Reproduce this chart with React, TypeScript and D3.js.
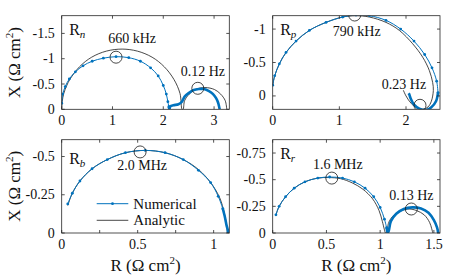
import React from "react";
import * as d3 from "d3";

type Pt = [number, number];
type Mark = { label: string; r: number; x: number };

// ---- R_n ----
const rnLimR = [0, 3.3];
const rnLimX = [0, -1.85];
const rnTicksR = [0, 1, 2, 3];
const rnTicksX = [0, -0.5, -1, -1.5];
const rnAnalytic: Pt[] = [
  [0, 0], [0.01, -0.15], [0.04, -0.31], [0.1, -0.47], [0.16, -0.59], [0.35, -0.84],
  [0.59, -1.03], [0.88, -1.15], [1.19, -1.19], [1.49, -1.15], [1.78, -1.03], [2.02, -0.84],
  [2.21, -0.59], [2.33, -0.31], [2.37, 0], [2.39, 0], [2.42, -0.17], [2.51, -0.3],
  [2.63, -0.39], [2.82, -0.43], [3.01, -0.39], [3.13, -0.3], [3.22, -0.17], [3.25, 0],
];
const rnNumerical: Pt[] = [
  [0, -0.12], [0.02, -0.3], [0.07, -0.45], [0.15, -0.6], [0.27, -0.74], [0.42, -0.86],
  [0.6, -0.95], [0.82, -1.01], [1.07, -1.04], [1.32, -1.02], [1.55, -0.95], [1.75, -0.82],
  [1.9, -0.66], [2.0, -0.47], [2.06, -0.3], [2.09, -0.15], [2.11, -0.05],
];
const rnNumericalLow: Pt[] = [
  [2.11, -0.05], [2.12, 0], [2.14, -0.06], [2.2, -0.08], [2.3, -0.1], [2.36, -0.14],
  [2.42, -0.25], [2.5, -0.32], [2.6, -0.38], [2.7, -0.4], [2.8, -0.4], [2.9, -0.36],
  [2.98, -0.3], [3.04, -0.22], [3.08, -0.13], [3.1, -0.05], [3.11, 0],
];
const rnMarks: Mark[] = [
  { label: "660 kHz", r: 1.07, x: -1.03 },
  { label: "0.12 Hz", r: 2.68, x: -0.415 },
];

// ---- R_p ----
const rpLimR = [0, 2.51];
const rpLimX = [0.2, -1.2];
const rpTicksR = [0, 1, 2];
const rpTicksX = [0, -0.5, -1];
const rpAnalytic: Pt[] = [
  [0, -0.16], [0.03, -0.3], [0.1, -0.48], [0.2, -0.65], [0.35, -0.82], [0.55, -0.98],
  [0.8, -1.1], [1.05, -1.18], [1.25, -1.2], [1.45, -1.18], [1.7, -1.1], [1.9, -0.98],
  [2.1, -0.78], [2.25, -0.58], [2.35, -0.38], [2.4, -0.2], [2.41, -0.08], [2.38, 0.08],
  [2.33, 0.165], [2.25, 0.2], [2.18, 0.19], [2.08, 0.115], [2.0, 0.0], [1.96, -0.085],
];
const rpNumerical: Pt[] = [
  [0, -0.16], [0.03, -0.3], [0.1, -0.48], [0.2, -0.65], [0.35, -0.82], [0.55, -0.98],
  [0.8, -1.1], [1.05, -1.18], [1.25, -1.21], [1.45, -1.2], [1.7, -1.13], [1.92, -1.0],
  [2.12, -0.82], [2.28, -0.62], [2.39, -0.42], [2.46, -0.22], [2.48, -0.05],
];
const rpNumericalLow: Pt[] = [
  [2.48, -0.05], [2.45, 0.08], [2.38, 0.17], [2.3, 0.21], [2.2, 0.19], [2.12, 0.13],
  [2.07, 0.04], [2.05, -0.02], [2.04, -0.04],
];
const rpMarks: Mark[] = [
  { label: "790 kHz", r: 1.23, x: -1.21 },
  { label: "0.23 Hz", r: 2.21, x: 0.14 },
];

// ---- R_b ----
const rbLimR = [0, 1.103];
const rbLimX = [0, -0.61];
const rbTicksR = [0, 0.25, 0.5, 0.75, 1];
const rbTickLabelsR = ["0", "", "0.5", "", "1"];
const rbTicksX = [0, -0.25, -0.5];
const rbAnalytic: Pt[] = [
  [0.04, -0.18], [0.07, -0.26], [0.12, -0.34], [0.2, -0.42], [0.3, -0.48], [0.42, -0.525],
  [0.55, -0.54], [0.68, -0.525], [0.8, -0.48], [0.9, -0.415], [0.98, -0.33], [1.04, -0.23],
  [1.07, -0.13], [1.085, -0.05], [1.09, 0],
];
const rbNumerical: Pt[] = [
  [0.04, -0.19], [0.07, -0.26], [0.12, -0.34], [0.2, -0.42], [0.3, -0.48], [0.42, -0.525],
  [0.55, -0.54], [0.68, -0.525], [0.8, -0.48], [0.9, -0.41], [0.98, -0.33], [1.03, -0.24],
  [1.06, -0.16],
];
const rbNumericalLow: Pt[] = [
  [1.06, -0.16], [1.075, -0.1], [1.085, -0.05], [1.093, -0.02], [1.095, 0],
];
const rbMarks: Mark[] = [{ label: "2.0 MHz", r: 0.516, x: -0.53 }];

// ---- R_r ----
const rrLimR = [0, 1.557];
const rrLimX = [0, -0.875];
const rrTicksR = [0, 0.5, 1, 1.5];
const rrTicksX = [0, -0.25, -0.5, -0.75];
const rrAnalytic: Pt[] = [
  [0.03, -0.17], [0.06, -0.25], [0.12, -0.34], [0.2, -0.42], [0.3, -0.48], [0.42, -0.515],
  [0.52, -0.52], [0.63, -0.51], [0.74, -0.47], [0.84, -0.41], [0.93, -0.32], [0.99, -0.21],
  [1.02, -0.11], [1.04, -0.03], [1.05, 0], [1.06, 0], [1.08, -0.1], [1.13, -0.17],
  [1.2, -0.21], [1.27, -0.225], [1.34, -0.21], [1.41, -0.17], [1.46, -0.1], [1.48, -0.04], [1.49, 0],
];
const rrNumerical: Pt[] = [
  [0.03, -0.17], [0.06, -0.25], [0.12, -0.34], [0.2, -0.42], [0.3, -0.48], [0.42, -0.515],
  [0.53, -0.525], [0.65, -0.515], [0.76, -0.48], [0.86, -0.42], [0.94, -0.34], [1.0, -0.24],
  [1.04, -0.13], [1.06, -0.05],
];
const rrNumericalLow: Pt[] = [
  [1.06, -0.05], [1.07, 0], [1.08, -0.02], [1.1, -0.11], [1.15, -0.18], [1.22, -0.225],
  [1.3, -0.24], [1.38, -0.23], [1.45, -0.19], [1.5, -0.12], [1.53, -0.05], [1.54, 0],
];
const rrMarks: Mark[] = [
  { label: "1.6 MHz", r: 0.55, x: -0.515 },
  { label: "0.13 Hz", r: 1.29, x: -0.225 },
];

const BLUE = "#0072BD";
const INK = "#262626";
const SERIF = { fontFamily: "Liberation Serif, DejaVu Serif, serif" };

const panels = [
  {
    id: "n", sub: "n", x0: 61.7, x1: 229.3, y0: 15.7, y1: 109.3, subY: 19.3,
    limR: rnLimR, limX: rnLimX, ticksR: rnTicksR, ticksX: rnTicksX,
    analytic: rnAnalytic, numerical: rnNumerical, low: rnNumericalLow, marks: rnMarks,
    labelOff: [[16, -14], [5, -12]],
  },
  {
    id: "p", sub: "p", x0: 272.7, x1: 440, y0: 15.7, y1: 109.3, subY: 19.3,
    limR: rpLimR, limX: rpLimX, ticksR: rpTicksR, ticksX: rpTicksX,
    analytic: rpAnalytic, numerical: rpNumerical, low: rpNumericalLow, marks: rpMarks,
    labelOff: [[2, 21], [-16, -16]],
  },
  {
    id: "b", sub: "b", x0: 61.7, x1: 229.3, y0: 139.7, y1: 233, subY: 24.5,
    limR: rbLimR, limX: rbLimX, ticksR: rbTicksR, tickLabelsR: rbTickLabelsR, ticksX: rbTicksX,
    analytic: rbAnalytic, numerical: rbNumerical, low: rbNumericalLow, marks: rbMarks,
    labelOff: [[2, 18]], legend: true,
  },
  {
    id: "r", sub: "r", x0: 272.7, x1: 440, y0: 139.7, y1: 233, subY: 19,
    limR: rrLimR, limX: rrLimX, ticksR: rrTicksR, ticksX: rrTicksX,
    analytic: rrAnalytic, numerical: rrNumerical, low: rrNumericalLow, marks: rrMarks,
    labelOff: [[6, -9], [0, -9]],
  },
];

function Panel({ p }: { p: any }) {
  const sx = d3.scaleLinear().domain(p.limR).range([p.x0, p.x1]);
  const sy = d3.scaleLinear().domain(p.limX).range([p.y1, p.y0]);
  const line = d3.line<Pt>()
    .x((d) => sx(d[0]))
    .y((d) => sy(d[1]))
    .curve(d3.curveCatmullRom.alpha(0.5));
  const tk = 3;
  const clip = `clip-${p.id}`;

  return (
    <g>
      <clipPath id={clip}>
        <rect x={p.x0} y={p.y0} width={p.x1 - p.x0} height={p.y1 - p.y0} />
      </clipPath>

      <g clipPath={`url(#${clip})`}>
        <path d={line(p.analytic) || ""} fill="none" stroke="#1a1a1a" strokeWidth={0.8} />
        <path d={line(p.numerical) || ""} fill="none" stroke={BLUE} strokeWidth={1} />
        <path d={line(p.low) || ""} fill="none" stroke={BLUE} strokeWidth={2.6} />
        {p.numerical.map((d: Pt, i: number) => (
          <circle key={i} cx={sx(d[0])} cy={sy(d[1])} r={1.4} fill={BLUE} />
        ))}
        {p.marks.map((m: Mark, i: number) => (
          <circle key={i} cx={sx(m.r)} cy={sy(m.x)} r={6} fill="none" stroke="#1a1a1a" strokeWidth={0.8} />
        ))}
      </g>

      {p.marks.map((m: Mark, i: number) => (
        <text key={i} x={sx(m.r) + p.labelOff[i][0]} y={sy(m.x) + p.labelOff[i][1]}
          textAnchor="middle" fontSize={14} fill="#111" style={SERIF}>{m.label}</text>
      ))}

      {/* box and inward ticks */}
      <rect x={p.x0} y={p.y0} width={p.x1 - p.x0} height={p.y1 - p.y0}
        fill="none" stroke={INK} strokeWidth={0.8} />
      {p.ticksR.map((v: number, i: number) => (
        <g key={"r" + i}>
          <line x1={sx(v)} x2={sx(v)} y1={p.y1} y2={p.y1 - tk} stroke={INK} strokeWidth={0.8} />
          <line x1={sx(v)} x2={sx(v)} y1={p.y0} y2={p.y0 + tk} stroke={INK} strokeWidth={0.8} />
          <text x={sx(v)} y={p.y1 + 16} textAnchor="middle" fontSize={14} fill="#111" style={SERIF}>
            {p.tickLabelsR ? p.tickLabelsR[i] : String(v)}
          </text>
        </g>
      ))}
      {p.ticksX.map((v: number, i: number) => (
        <g key={"x" + i}>
          <line x1={p.x0} x2={p.x0 + tk} y1={sy(v)} y2={sy(v)} stroke={INK} strokeWidth={0.8} />
          <line x1={p.x1} x2={p.x1 - tk} y1={sy(v)} y2={sy(v)} stroke={INK} strokeWidth={0.8} />
          <text x={p.x0 - 7} y={sy(v)} textAnchor="end" dominantBaseline="central"
            fontSize={14} fill="#111" style={SERIF}>{String(v)}</text>
        </g>
      ))}

      <text x={p.x0 + 7.5} y={p.y0 + p.subY} fontSize={16} fill="#111" style={SERIF}>
        R<tspan fontStyle="italic" fontSize={11} dy={3}>{p.sub}</tspan>
      </text>

      {p.legend && (
        <g>
          <line x1={p.x0 + 35} x2={p.x0 + 66.6} y1={p.y0 + 64} y2={p.y0 + 64} stroke={BLUE} strokeWidth={1} />
          <circle cx={p.x0 + 50.8} cy={p.y0 + 64} r={1.4} fill={BLUE} />
          <text x={p.x0 + 71.6} y={p.y0 + 64} dominantBaseline="central" fontSize={15} fill="#111" style={SERIF}>Numerical</text>
          <line x1={p.x0 + 35} x2={p.x0 + 66.6} y1={p.y0 + 80.6} y2={p.y0 + 80.6} stroke="#1a1a1a" strokeWidth={0.8} />
          <text x={p.x0 + 71.6} y={p.y0 + 80.6} dominantBaseline="central" fontSize={15} fill="#111" style={SERIF}>Analytic</text>
        </g>
      )}
    </g>
  );
}

export default function App() {
  const W = 449;
  const H = 276;
  const unit = (
    <>
      (Ω cm<tspan fontSize={11} dy={-7}>2</tspan><tspan dy={7}>)</tspan>
    </>
  );
  return (
    <svg width={W} height={H}
      style={{ position: "absolute", left: 0, top: 0, background: "#fff", ...SERIF }}>
      {panels.map((p) => <Panel key={p.id} p={p} />)}
      <text transform="translate(20,62.5) rotate(-90)" textAnchor="middle" fontSize={17} fill="#111" style={SERIF}>
        X {unit}
      </text>
      <text transform="translate(20,186.3) rotate(-90)" textAnchor="middle" fontSize={17} fill="#111" style={SERIF}>
        X {unit}
      </text>
      <text x={145.5} y={271} textAnchor="middle" fontSize={17} fill="#111" style={SERIF}>R {unit}</text>
      <text x={356.3} y={271} textAnchor="middle" fontSize={17} fill="#111" style={SERIF}>R {unit}</text>
    </svg>
  );
}
